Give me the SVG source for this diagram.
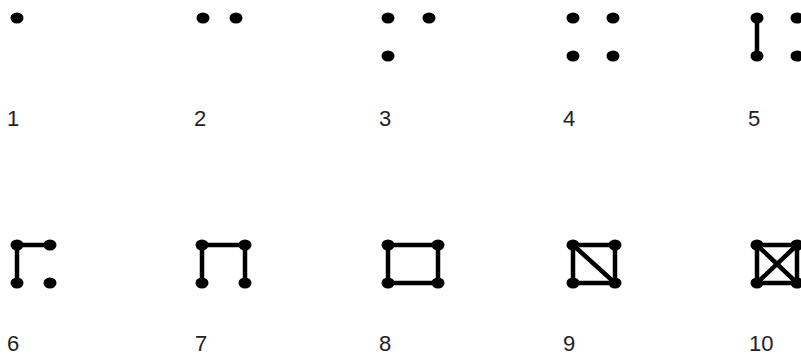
<svg xmlns="http://www.w3.org/2000/svg" width="801" height="358" viewBox="0 0 801 358">
<style>
.d{fill:#000}
.e{stroke:#000;stroke-width:4.5;stroke-linecap:round;fill:none}
.t{font-family:"Liberation Sans",Arial,sans-serif;font-size:22px;fill:#222}
</style>
<rect width="801" height="358" fill="#fff"/>
<defs>
<ellipse id="dot" cx="0" cy="0" rx="6.5" ry="5.6" class="d"/>
</defs>
<g id="connectors">
<line class="e" x1="757" y1="18" x2="757" y2="56"/>
<line class="e" x1="17" y1="245" x2="50" y2="245"/>
<line class="e" x1="17" y1="245" x2="17" y2="283"/>
<line class="e" x1="202" y1="245" x2="245" y2="245"/>
<line class="e" x1="202" y1="245" x2="202" y2="283"/>
<line class="e" x1="245" y1="245" x2="245" y2="283"/>
<rect class="e" x="388" y="245" width="50" height="38"/>
<rect class="e" x="573" y="245" width="42" height="38"/>
<line class="e" x1="573" y1="245" x2="615" y2="283"/>
<rect class="e" x="757" y="245" width="40" height="38"/>
<line class="e" x1="757" y1="245" x2="797" y2="283"/>
<line class="e" x1="797" y1="245" x2="757" y2="283"/>
</g>
<g id="fig1">
<use href="#dot" x="17" y="18"/>
<text class="t" x="7" y="126">1</text>
</g>
<g id="fig2">
<use href="#dot" x="203" y="18"/><use href="#dot" x="236" y="18"/>
<text class="t" x="194" y="126">2</text>
</g>
<g id="fig3">
<use href="#dot" x="388" y="18"/><use href="#dot" x="429" y="18"/><use href="#dot" x="388" y="56"/>
<text class="t" x="379" y="126">3</text>
</g>
<g id="fig4">
<use href="#dot" x="573" y="18"/><use href="#dot" x="613" y="18"/><use href="#dot" x="573" y="56"/><use href="#dot" x="613" y="56"/>
<text class="t" x="563" y="126">4</text>
</g>
<g id="fig5">
<use href="#dot" x="757" y="18"/><use href="#dot" x="797" y="18"/><use href="#dot" x="757" y="56"/><use href="#dot" x="797" y="56"/>
<text class="t" x="748" y="126">5</text>
</g>
<g id="fig6">
<use href="#dot" x="17" y="245"/><use href="#dot" x="50" y="245"/><use href="#dot" x="17" y="283"/><use href="#dot" x="50" y="283"/>
<text class="t" x="7" y="351">6</text>
</g>
<g id="fig7">
<use href="#dot" x="202" y="245"/><use href="#dot" x="245" y="245"/><use href="#dot" x="202" y="283"/><use href="#dot" x="245" y="283"/>
<text class="t" x="195" y="351">7</text>
</g>
<g id="fig8">
<use href="#dot" x="388" y="245"/><use href="#dot" x="438" y="245"/><use href="#dot" x="388" y="283"/><use href="#dot" x="438" y="283"/>
<text class="t" x="379" y="351">8</text>
</g>
<g id="fig9">
<use href="#dot" x="573" y="245"/><use href="#dot" x="615" y="245"/><use href="#dot" x="573" y="283"/><use href="#dot" x="615" y="283"/>
<text class="t" x="563" y="351">9</text>
</g>
<g id="fig10">
<use href="#dot" x="757" y="245"/><use href="#dot" x="797" y="245"/><use href="#dot" x="757" y="283"/><use href="#dot" x="797" y="283"/>
<text class="t" x="749" y="351">10</text>
</g>
</svg>
